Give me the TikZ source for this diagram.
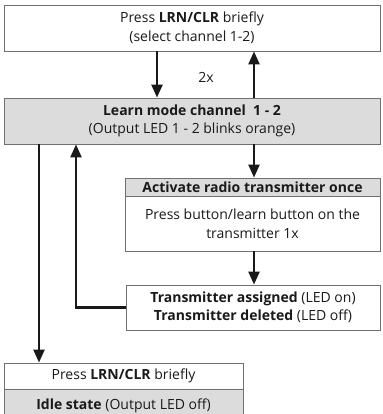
\documentclass[tikz,border=0pt]{standalone}
\usepackage{fontspec}
\setmainfont{Open Sans}
\usetikzlibrary{arrows.meta}
\definecolor{boxline}{HTML}{707070}
\definecolor{boxfill}{HTML}{DCDCDC}
\definecolor{ink}{HTML}{1A1A1A}
\tikzset{
  box/.style={draw=boxline, line width=0.9pt, fill=white, inner sep=0pt,
    align=center, text=ink, font=\fontsize{14}{18.5}\selectfont},
  shaded/.style={box, fill=boxfill},
  arr/.style={draw=black!90, line width=2.4pt,
    -{Triangle[length=13pt,width=11pt]}},
}
\begin{document}
\begin{tikzpicture}[x=1pt,y=-1pt]
\useasboundingbox (0,0) rectangle (382,414);
% columns of the vertical connectors
\coordinate (colA) at (39,0);
\coordinate (colB) at (76,0);
\coordinate (colC) at (157,0);
\coordinate (colD) at (254,0);

\node[box, minimum width=376pt, minimum height=46pt] (top) at (192,28)
  {Press \textbf{LRN/CLR} briefly\\(select channel 1-2)};
\node[shaded, minimum width=376pt, minimum height=46pt] (learn) at (192,121)
  {\textbf{Learn mode channel\ \ 1 - 2}\\(Output LED 1 - 2 blinks orange)};
\node[shaded, minimum width=255pt, minimum height=18pt] (acthead) at (252.5,187)
  {\textbf{Activate radio transmitter once}};
\node[box, minimum width=255pt, minimum height=55pt] (actbody) at (252.5,223.5)
  {Press button/learn button on the\\transmitter 1x};
\node[box, minimum width=254pt, minimum height=45pt] (assigned) at (253,307.5)
  {\textbf{Transmitter assigned} (LED on)\\\textbf{Transmitter deleted} (LED off)};
\node[box, minimum width=239pt, minimum height=26pt] (idletop) at (123.5,376)
  {Press \textbf{LRN/CLR} briefly};
\node[shaded, minimum width=239pt, minimum height=31pt, anchor=north] (idlebot) at (idletop.south)
  {\raisebox{2.5pt}{\textbf{Idle state} (Output LED off)}};

\node[text=ink, font=\fontsize{14}{15}\selectfont] (twice) at (206,77) {2x};

\draw[arr] (top.south -| colC) -- (learn.north -| colC);
\draw[arr] (learn.north -| colD) -- (top.south -| colD);
\draw[arr] (learn.south -| colD) -- (acthead.north -| colD);
\draw[arr] (actbody.south -| colD) -- (assigned.north -| colD);
\draw[arr] (assigned.west) -- (assigned.west -| colB) -- (learn.south -| colB);
\draw[arr] (learn.south -| colA) -- (idletop.north -| colA);
\end{tikzpicture}
\end{document}
